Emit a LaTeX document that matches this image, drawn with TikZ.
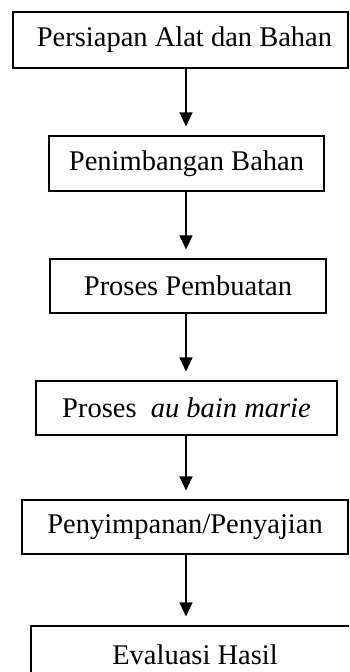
\documentclass[tikz,border=0pt]{standalone}
\usepackage{fontspec}
\setmainfont{Liberation Serif}
\usetikzlibrary{arrows.meta}

\tikzset{
  stepbox/.style={draw, line width=1.1pt, inner sep=0pt, minimum height=54pt,
    font=\fontsize{28.5}{32}\selectfont},
  flow/.style={line width=1.1pt, -{Triangle[width=13pt,length=14pt]}, shorten >=9pt}
}

\begin{document}
\begin{tikzpicture}[x=1pt,y=-1pt]
% Page frame
\clip (0,0) rectangle (349,672);
\fill[white] (0,0) rectangle (349,672);
% Process boxes
\node[stepbox, minimum width=335pt, minimum height=56pt] (siap) at (180.5,40) {\hspace*{8pt}Persiapan Alat dan Bahan};
\node[stepbox, minimum width=275pt, minimum height=55pt] (timbang) at (186.5,163.5) {Penimbangan Bahan};
\node[stepbox, minimum width=276pt] (buat) at (188,286) {Proses Pembuatan};
\node[stepbox, minimum width=301pt] (bain) at (186.5,408) {Proses\ \ \textit{au bain marie}};
\node[stepbox, minimum width=326pt] (simpan) at (185,527) {Penyimpanan/Penyajian};
\node[stepbox, minimum width=328pt, minimum height=58pt] (evaluasi) at (195,655) {Evaluasi Hasil};
% Arrows between steps
\coordinate (ax) at (186,0);
\draw[flow] (siap.south -| ax) -- (timbang.north -| ax);
\draw[flow] (timbang.south -| ax) -- (buat.north -| ax);
\draw[flow] (buat.south -| ax) -- (bain.north -| ax);
\draw[flow] (bain.south -| ax) -- (simpan.north -| ax);
\draw[flow] (simpan.south -| ax) -- (evaluasi.north -| ax);
\end{tikzpicture}
\end{document}
